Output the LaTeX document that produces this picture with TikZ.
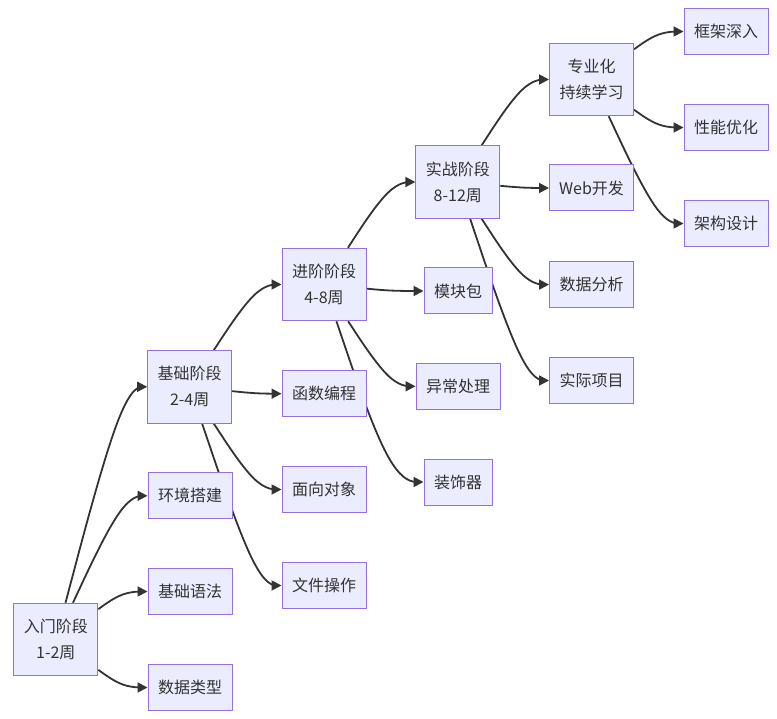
\documentclass[tikz,border=0pt]{standalone}
\usepackage{fontspec}
\setmainfont{Noto Sans CJK SC}
\usetikzlibrary{arrows.meta,calc}
\definecolor{nodefill}{HTML}{ECECFF}
\definecolor{nodeline}{HTML}{9370DB}
\definecolor{edgeline}{HTML}{333333}
\definecolor{txt}{HTML}{333333}
\pgfdeclarelayer{bg}
\pgfsetlayers{bg,main}
\tikzset{
  box/.style={draw=nodeline, fill=nodefill, line width=1pt, text=txt,
    minimum width=84pt, minimum height=46pt, inner sep=0pt, align=center,
    font=\fontsize{16}{26}\selectfont},
  stage/.style={box, minimum height=72.5pt},
  narrow/.style={box, minimum width=68pt},
  flowline/.style={draw=edgeline, line width=1.8pt,
    -{Triangle[length=10pt,width=10pt]}},
}
\newcommand\flowedge[2]{%
  \coordinate (m) at ([xshift=-67pt]#2.center);
  \path (#1) -- (m) coordinate[pos=0] (s);
  \coordinate (t) at (#2.west);
  \begin{pgfonlayer}{bg}
  \draw[flowline] (s) -- ($(s)!0.16667!(m)$)
    .. controls ($(s)!0.33333!(m)$) and ($(s)!0.66667!(m)$)
    .. ($0.16667*(s)+0.66667*(m)+0.16667*(t)$)
    .. controls ($(m)!0.33333!(t)$) and ($(m)!0.66667!(t)$)
    .. ($(m)!0.83333!(t)$) -- (t);
  \end{pgfonlayer}
}
\begin{document}
\begin{tikzpicture}[x=1pt,y=-1pt]
\useasboundingbox (0,0) rectangle (777,719);
\begin{pgfonlayer}{bg}
\fill[white] (0,0) rectangle (777,719);
\end{pgfonlayer}
\node[stage] (rumen) at (55.8,639.5) {入门阶段\\1-2周};
\node[box] (huanjing) at (190,495.8) {环境搭建};
\node[box] (yufa) at (190,591.5) {基础语法};
\node[box] (leixing) at (190,687.5) {数据类型};
\node[stage] (jichu) at (189.7,386.8) {基础阶段\\2-4周};
\node[box] (hanshu) at (324,393.7) {函数编程};
\node[box] (duixiang) at (324,489.5) {面向对象};
\node[box] (wenjian) at (324,585.5) {文件操作};
\node[stage] (jinjie) at (324,284.5) {进阶阶段\\4-8周};
\node[narrow] (mokuai) at (458,291) {模块包};
\node[box] (yichang) at (458,386.3) {异常处理};
\node[narrow] (zhuangshi) at (458,482) {装饰器};
\node[stage] (shizhan) at (457.8,182) {实战阶段\\8-12周};
\node[box] (web) at (591.5,188) {Web开发};
\node[box] (fenxi) at (591.5,284.6) {数据分析};
\node[box] (xiangmu) at (591.5,380.5) {实际项目};
\node[stage] (zhuanye) at (591.5,79.5) {专业化\\持续学习};
\node[box] (kuangjia) at (726,31.5) {框架深入};
\node[box] (xingneng) at (726,127.5) {性能优化};
\node[box] (jiagou) at (726,223.5) {架构设计};
\flowedge{rumen}{jichu}
\flowedge{rumen}{huanjing}
\flowedge{rumen}{yufa}
\flowedge{rumen}{leixing}
\flowedge{jichu}{jinjie}
\flowedge{jichu}{hanshu}
\flowedge{jichu}{duixiang}
\flowedge{jichu}{wenjian}
\flowedge{jinjie}{shizhan}
\flowedge{jinjie}{mokuai}
\flowedge{jinjie}{yichang}
\flowedge{jinjie}{zhuangshi}
\flowedge{shizhan}{zhuanye}
\flowedge{shizhan}{web}
\flowedge{shizhan}{fenxi}
\flowedge{shizhan}{xiangmu}
\flowedge{zhuanye}{kuangjia}
\flowedge{zhuanye}{xingneng}
\flowedge{zhuanye}{jiagou}
\end{tikzpicture}
\end{document}
